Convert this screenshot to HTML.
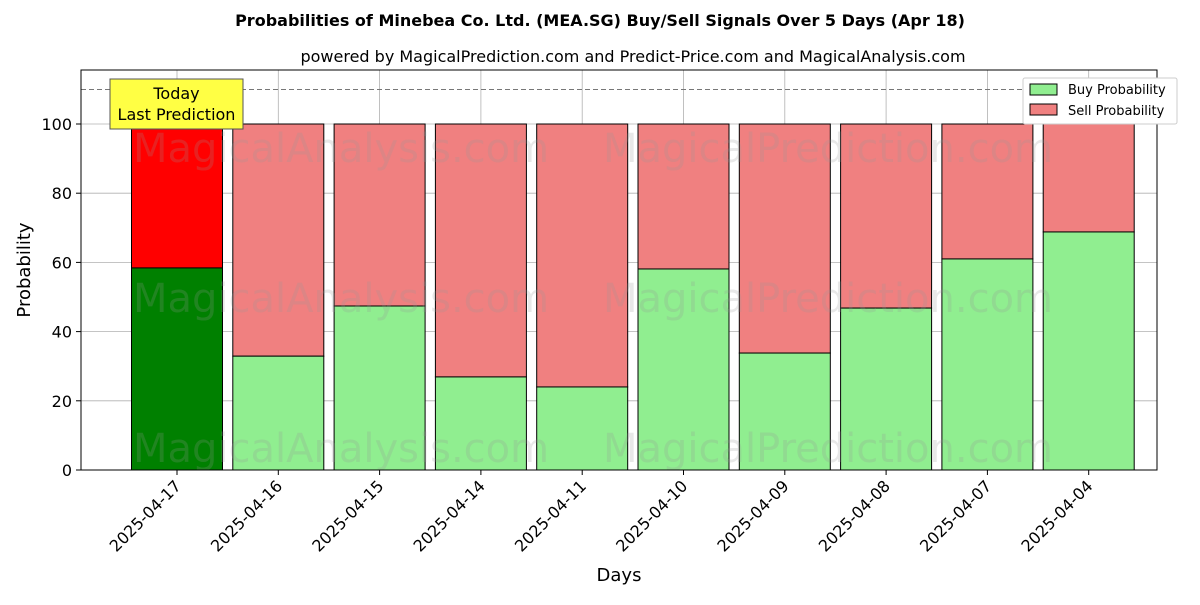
<!DOCTYPE html>
<html><head><meta charset="utf-8"><style>
body{margin:0;background:#fff;}
svg text{font-family:"DejaVu Sans","Liberation Sans",sans-serif;}
</style></head><body>
<svg id="chart" width="1200" height="600" viewBox="0 0 1200 600" xmlns="http://www.w3.org/2000/svg">
<text x="600" y="26" text-anchor="middle" font-size="16" font-weight="bold">Probabilities of Minebea Co. Ltd. (MEA.SG) Buy/Sell Signals Over 5 Days (Apr 18)</text>
<text x="633" y="62" text-anchor="middle" font-size="16">powered by MagicalPrediction.com and Predict-Price.com and MagicalAnalysis.com</text>
<g id="grid"></g>
<g id="bars"></g>
<g id="wm" font-size="40" fill="rgba(150,150,150,0.22)">
<text x="133" y="162">MagicalAnalysis.com</text>
<text x="603" y="162">MagicalPrediction.com</text>
<text x="133" y="312">MagicalAnalysis.com</text>
<text x="603" y="312">MagicalPrediction.com</text>
<text x="133" y="462">MagicalAnalysis.com</text>
<text x="603" y="462">MagicalPrediction.com</text>
</g>
<line x1="81" x2="1157" y1="89.5" y2="89.5" stroke="#777" stroke-dasharray="5,3"/>
<rect x="81" y="70" width="1076" height="400" fill="none" stroke="#000"/>
<g id="axes"></g>
<text x="30" y="270" transform="rotate(-90 30 270)" text-anchor="middle" font-size="18">Probability</text>
<text x="619" y="581" text-anchor="middle" font-size="18">Days</text>
<g>
<rect x="110" y="79" width="133" height="50" fill="#ffff44" stroke="#555"/>
<text x="176.5" y="99" text-anchor="middle" font-size="16">Today</text>
<text x="176.5" y="120" text-anchor="middle" font-size="16">Last Prediction</text>
</g>
<g>
<rect x="1023" y="78" width="154" height="46" fill="#fff" stroke="#ccc" rx="2"/>
<rect x="1030" y="84" width="27" height="11" fill="#90ee90" stroke="#000"/>
<text x="1068" y="94" font-size="13">Buy Probability</text>
<rect x="1030" y="104" width="27" height="11" fill="#f08080" stroke="#000"/>
<text x="1068" y="115" font-size="13">Sell Probability</text>
</g>
</svg>
<script>
const categories=["2025-04-17","2025-04-16","2025-04-15","2025-04-14","2025-04-11","2025-04-10","2025-04-09","2025-04-08","2025-04-07","2025-04-04"];
const buyValues=[58.4,32.9,47.4,26.9,24.0,58.1,33.8,46.8,61.0,68.8];
const yTicks=[0,20,40,60,80,100];
const NS="http://www.w3.org/2000/svg";
const y=v=>470-v*3.46;
const x=i=>177+i*101.3;
const bw=91;
function mk(t,a,p){const e=document.createElementNS(NS,t);for(const k in a)e.setAttribute(k,a[k]);p.appendChild(e);return e;}
const grid=document.getElementById('grid'),bars=document.getElementById('bars'),axes=document.getElementById('axes');
yTicks.forEach(v=>{
 const g=mk('line',{x1:81,x2:1157,y1:y(v),y2:y(v),stroke:'#b0b0b0','stroke-width':0.8},grid);
 
 
 mk('line',{x1:76,x2:81,y1:y(v),y2:y(v),stroke:'#000'},axes);
 const t=mk('text',{x:72,y:y(v)+6,'text-anchor':'end','font-size':16},axes);t.textContent=v;
 
 
});
categories.forEach((c,i)=>{
 const cx=x(i);
 const g=mk('line',{x1:cx,x2:cx,y1:70,y2:470,stroke:'#b0b0b0','stroke-width':0.8},grid);
 
 
 const b=buyValues[i];
 const s=mk('rect',{x:cx-bw/2,y:y(100),width:bw,height:y(b)-y(100),fill:i==0?'#ff0000':'#f08080',stroke:'#000'},bars);
 
 
 const r=mk('rect',{x:cx-bw/2,y:y(b),width:bw,height:y(0)-y(b),fill:i==0?'#008000':'#90ee90',stroke:'#000'},bars);
 
 
 mk('line',{x1:cx,x2:cx,y1:470,y2:475,stroke:'#000'},axes);
 const t=mk('text',{x:cx+5,y:487,'text-anchor':'end','font-size':16,transform:`rotate(-45 ${cx+5} 487)`},axes);t.textContent=c;
 
 
});
</script>
</body></html>
